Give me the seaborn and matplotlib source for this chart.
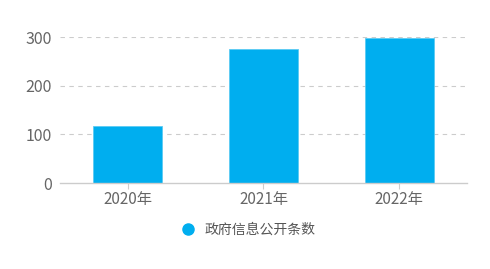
import matplotlib
matplotlib.use("Agg")
import matplotlib.pyplot as plt
import seaborn as sns
import pandas as pd

categories = ["2020年", "2021年", "2022年"]
values = [118, 276, 298]
series_name = "政府信息公开条数"

sns.set_theme(style="white")
plt.rcParams['font.family'] = ['Noto Sans CJK SC', 'DejaVu Sans']

df = pd.DataFrame({"year": categories, "count": values})

fig = plt.figure(figsize=(4.9, 2.69), dpi=100)
ax = fig.add_axes([0.1224, 0.3197, 0.8306, 0.5413])
color = "#00AEEF"
sns.barplot(data=df, x="year", y="count", color=color, width=0.51,
            saturation=1, ax=ax, edgecolor="#5CCBF3", linewidth=0.6)
ax.set_ylim(0, 300)
ax.set_yticks([0, 100, 200, 300])
ax.set_xlim(-0.5, 2.5)
ax.set_xlabel("")
ax.set_ylabel("")
for y in [100, 200, 300]:
    ax.axhline(y, color="#CCCCCC", linestyle=(0, (4, 4)), linewidth=0.8, zorder=0)
for s in ["top", "right", "left"]:
    ax.spines[s].set_visible(False)
ax.spines["bottom"].set_color("#CCCCCC")
ax.spines["bottom"].set_linewidth(1.0)
ax.tick_params(axis="x", colors="#CCCCCC", length=4, width=0.8, direction="out",
               labelcolor="#666666", labelsize=11, pad=2, bottom=True)
ax.tick_params(axis="y", length=0, labelcolor="#666666", labelsize=11.5, pad=6)

fig.legend(handles=[plt.Line2D([], [], marker="o", linestyle="", color=color,
                               markersize=8)],
           labels=[series_name], loc="center", bbox_to_anchor=(0.5, 0.145),
           frameon=False, fontsize=10, handletextpad=0.15,
           labelcolor="#555555")

fig.savefig("out.png", dpi=100)
